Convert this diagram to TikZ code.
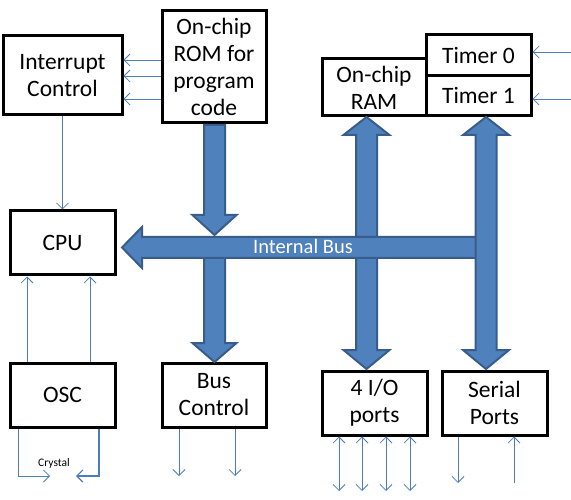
\documentclass[tikz,border=0pt]{standalone}
\usepackage{fontspec}
\setmainfont{Carlito}
\usetikzlibrary{arrows.meta,calc}
\definecolor{busfill}{RGB}{79,129,189}
\definecolor{busedge}{RGB}{56,93,138}
\definecolor{thinblue}{RGB}{74,126,187}
\tikzset{
  blk/.style={draw=black, line width=3pt, fill=white, inner sep=0pt, align=center,
    font=\fontsize{23.5}{27}\selectfont},
  sig/.style={draw=thinblue, line width=0.8pt},
  sigto/.style={sig, -{Straight Barb[length=6pt,width=12pt]}},
  sigboth/.style={sig, {Straight Barb[length=6pt,width=12pt]}-{Straight Barb[length=6pt,width=12pt]}},
  bigarrow/.style={fill=busfill, draw=busedge, line width=2pt, line join=miter},
}
\begin{document}
\begin{tikzpicture}[x=1pt,y=-1pt]
\useasboundingbox (0,0) rectangle (571,500);
% boxes
\node[blk, minimum width=119, minimum height=79] (intr) at (62.5,75.5) {Interrupt\\Control};
\node[blk, minimum width=104, minimum height=112] (rom) at (214,67) {On-chip\\ROM for\\program\\code};
\node[blk, minimum width=105, minimum height=64] (cpu) at (62.5,243) {CPU};
\node[blk, minimum width=105, minimum height=64] (osc) at (62.5,395) {OSC};
\node[blk, minimum width=104, minimum height=64] (busc) at (214,395) {Bus\\Control};
\node[blk, minimum width=104, minimum height=57] (ram) at (374,87.5) {On-chip\\RAM};
\node[blk, minimum width=105, minimum height=40.5] (tim0) at (478.5,55) {Timer 0};
\node[blk, minimum width=105, minimum height=40.5] (tim1) at (478.5,95.5) {Timer 1};
\node[blk, minimum width=105, minimum height=64] (io) at (374.5,403) {4 I/O\\ports};
\node[blk, minimum width=105, minimum height=64] (ser) at (494.5,403) {Serial\\Ports};
% big arrows
\draw[bigarrow] (204,125) -- (204,215) -- (192.5,215) -- (214.5,235) -- (236.5,215) -- (225,215) -- (225,125) -- cycle;
\draw[bigarrow] (204,250) -- (204,343) -- (192.5,343) -- (214.5,362) -- (236.5,343) -- (225,343) -- (225,250) -- cycle;
\draw[bigarrow] (366.5,117) -- (389.5,135) -- (377,135) -- (377,350) -- (389.5,350) -- (366.5,369) -- (343.5,350) -- (356,350) -- (356,135) -- (343.5,135) -- cycle;
\draw[bigarrow] (480,237) -- (142,237) -- (142,227) -- (122,247.5) -- (142,268) -- (142,258) -- (480,258) -- cycle;
\draw[bigarrow] (486,117) -- (509,135) -- (496.5,135) -- (496.5,350) -- (509,350) -- (486,369) -- (463,350) -- (475.5,350) -- (475.5,135) -- (463,135) -- cycle;
\node[text=white, font=\fontsize{20.5}{24}\selectfont] (ibus) at (303,246.5) {Internal Bus};
% thin signal arrows
\draw[sigto] (rom.west |- 0,60) -- (intr.east |- 0,60);
\draw[sigto] (rom.west |- 0,76) -- (intr.east |- 0,76);
\draw[sigto] (rom.west |- 0,99) -- (intr.east |- 0,99);
\draw[sigto] (intr.south) -- (cpu.north);
\draw[sigto] (osc.north -| 27,0) -- (cpu.south -| 27,0);
\draw[sigto] (osc.north -| 90,0) -- (cpu.south -| 90,0);
\coordinate (t0in) at (571,52);
\coordinate (t1in) at (571,99);
\draw[sigto] (t0in) -- (tim0.east |- t0in);
\draw[sigto] (t1in) -- (tim1.east |- t1in);
% crystal
\coordinate (xl) at (50,476);
\coordinate (xr) at (76,476);
\draw[sigto] (osc.south -| 18,0) |- (xl);
\draw[sigto, line width=1.1pt] (osc.south -| 99,0) |- (xr);
\node[font=\fontsize{11.5}{13}\selectfont] (crys) at (54,463) {Crystal};
% bus control outputs
\coordinate (bc1) at (179,476);
\coordinate (bc2) at (235,476);
\draw[sigto] (busc.south -| bc1) -- (bc1);
\draw[sigto] (busc.south -| bc2) -- (bc2);
% I/O ports
\foreach \x/\n in {339/a,362/b,386/c,410/d}{
  \coordinate (io\n) at (\x,491);
  \draw[sigboth] (io.south -| io\n) -- (io\n);
}
% serial ports
\coordinate (sd) at (458,483);
\coordinate (su) at (514,483);
\draw[sigto] (ser.south -| sd) -- (sd);
\draw[sigto] (su) -- (ser.south -| su);
\end{tikzpicture}
\end{document}
